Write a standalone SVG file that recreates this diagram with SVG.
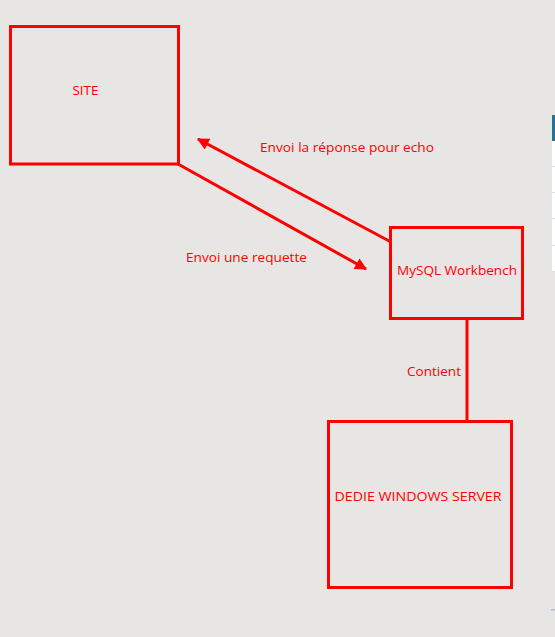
<svg xmlns="http://www.w3.org/2000/svg" width="555" height="637" viewBox="0 0 555 637">
<style>
.box{fill:none;stroke:#ff0000;stroke-width:3}
.ln{fill:none;stroke:#ff0000;stroke-width:3}
.t{font-family:"Open Sans","Noto Sans","DejaVu Sans",sans-serif;font-size:12.5px;fill:#ff0000}
</style>
<defs>
<marker id="ah" viewBox="0 0 10 10" refX="9" refY="5" markerWidth="5" markerHeight="4" markerUnits="strokeWidth" orient="auto">
<path d="M0,0 L10,5 L0,10 z" fill="#ff0000"/>
</marker>
</defs>
<rect x="0" y="0" width="555" height="637" fill="#e7e6e4"/>
<g id="side-table">
<rect x="552" y="115" width="3" height="26" fill="#2a6f94"/>
<rect x="552" y="141" width="3" height="131" fill="#ffffff"/>
<rect x="552" y="166" width="3" height="1" fill="#cfe0ee"/>
<rect x="552" y="192" width="3" height="1" fill="#cfe0ee"/>
<rect x="552" y="218" width="3" height="1" fill="#cfe0ee"/>
<rect x="552" y="245" width="3" height="1" fill="#cfe0ee"/>
<rect x="552" y="271" width="3" height="1" fill="#cfe0ee"/>
<rect x="551" y="609" width="4" height="1.5" fill="#a9bfd1"/>
</g>
<g id="connectors">
<line class="ln" x1="391" y1="242" x2="198" y2="139" marker-end="url(#ah)"/>
<line class="ln" x1="178" y1="164" x2="366" y2="269" marker-end="url(#ah)"/>
<line class="ln" x1="467" y1="318" x2="467" y2="421"/>
<text class="t" x="260" y="152" textLength="174" lengthAdjust="spacingAndGlyphs">Envoi la réponse pour echo</text>
<text class="t" x="186" y="262" textLength="121" lengthAdjust="spacingAndGlyphs">Envoi une requette</text>
<text class="t" x="407" y="376" textLength="54" lengthAdjust="spacingAndGlyphs">Contient</text>
</g>
<g id="site">
<rect class="box" x="10.5" y="26.5" width="168" height="137.5"/>
<text class="t" x="72.5" y="95" textLength="26" lengthAdjust="spacingAndGlyphs">SITE</text>
</g>
<g id="mysql">
<rect class="box" x="390.5" y="227.5" width="132" height="91"/>
<text class="t" x="397" y="275" textLength="120" lengthAdjust="spacingAndGlyphs">MySQL Workbench</text>
</g>
<g id="server">
<rect class="box" x="328.5" y="421.5" width="183" height="166"/>
<text class="t" x="334.5" y="501" textLength="167" lengthAdjust="spacingAndGlyphs">DEDIE WINDOWS SERVER</text>
</g>
</svg>
